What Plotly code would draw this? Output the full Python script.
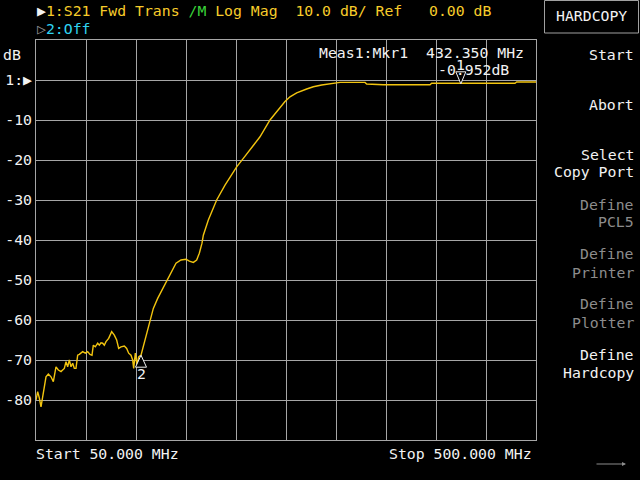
import plotly.graph_objects as go

# ---------------- data ----------------
freq_mhz = [50.0, 51.5, 53.0, 54.5, 56.0, 57.5, 59.0, 61.1, 63.5, 65.6, 66.5, 68.0, 70.1, 72.5,
            75.5, 77.0, 78.5, 80.0, 81.5, 83.0, 84.5, 86.0, 87.5, 89.0, 92.0, 94.4, 96.5, 98.6,
            100.4, 101.6, 103.4, 105.5, 107.0, 108.5, 110.0, 111.5, 113.0, 115.4, 118.1, 120.5,
            122.6, 124.4, 126.5, 129.5, 131.6, 133.4, 135.5, 137.0, 137.9, 139.4, 140.9, 142.4,
            144.5, 147.5, 150.5, 153.5, 155.6, 159.5, 164.0, 168.5, 171.5, 176.0, 180.5, 185.0,
            188.0, 191.6, 194.6, 197.0, 199.4, 200.6, 205.1, 212.6, 220.1, 230.6, 236.6, 242.6,
            251.6, 260.6, 268.1, 274.1, 278.6, 284.6, 293.6, 299.6, 307.1, 314.6, 323.6, 346.1,
            347.6, 362.6, 404.6, 406.1, 419.6, 421.1, 432.35, 463.1, 464.6, 481.1, 482.6, 500.0]
s21_db = [-80.0, -77.9, -79.5, -81.7, -79.2, -76.7, -74.2, -73.5, -74.2, -75.4, -73.8, -71.7, -72.5, -72.9,
          -72.1, -70.4, -71.7, -70.0, -71.7, -70.8, -72.1, -72.1, -68.8, -68.6, -67.9, -68.3, -67.9, -68.6,
          -68.8, -66.3, -66.7, -65.8, -66.3, -65.7, -65.8, -66.3, -65.4, -64.6, -62.9, -63.8,
          -65.0, -67.1, -66.7, -66.5, -67.1, -68.3, -68.8, -70.0, -72.1, -68.3, -71.3, -69.2,
          -68.8, -65.8, -62.5, -59.2, -57.1, -54.6, -52.1, -49.6, -47.9, -45.8, -45.0, -44.8,
          -45.3, -45.6, -45.0, -43.3, -40.8, -38.8, -35.0, -30.0, -26.3, -21.7, -19.6, -17.5,
          -14.2, -10.0, -7.5, -5.4, -4.2, -3.2, -2.25, -1.7, -1.25, -1.0, -0.6, -0.6,
          -1.0, -1.2, -1.2, -0.8, -0.8, -0.95, -0.952, -0.95, -0.8, -0.8, -0.5, -0.5]

marker_names = ["1", "2"]
marker_freq = [432.35, 144.5]
marker_db = [-0.952, -68.8]

x_grid = [50, 95, 140, 185, 230, 275, 320, 365, 410, 455, 500]
y_grid = [10, 0, -10, -20, -30, -40, -50, -60, -70, -80, -90]
y_labels = ["", "1:\u25B6", "-10", "-20", "-30", "-40", "-50", "-60", "-70", "-80", ""]

softkeys = [("Start", 54, "#f2f2f2"), ("Abort", 104, "#f2f2f2"),
            ("Select", 154, "#f2f2f2"), ("Copy Port", 172, "#f2f2f2"),
            ("Define", 204, "#8c8c8c"), ("PCL5", 222, "#8c8c8c"),
            ("Define", 254, "#8c8c8c"), ("Printer", 272, "#8c8c8c"),
            ("Define", 304, "#8c8c8c"), ("Plotter", 322, "#8c8c8c"),
            ("Define", 354, "#f2f2f2"), ("Hardcopy", 372, "#f2f2f2")]

# ---------------- style ----------------
FONT = "DejaVu Sans Mono"
FS = 14.8
GRID = "#a6a6a6"
TRACE = "#f2c40f"
YEL = "#f7cc2a"
WHITE = "#f2f2f2"
L, R, T, B = 36, 536, 40, 440


def nb(s):
    return s.replace(" ", "\u00a0")


def px(x):
    return (x - L) / (R - L)


def py(y):
    return (B - y) / (B - T)


def ann(text, x, y, color, xanchor="left", size=FS):
    return dict(text=text, x=px(x), y=py(y), xref="paper", yref="paper",
                xanchor=xanchor, yanchor="middle", showarrow=False,
                font=dict(family=FONT, size=size, color=color))


fig = go.Figure()
fig.add_trace(go.Scatter(x=freq_mhz, y=s21_db, mode="lines",
                         line=dict(color=TRACE, width=1.4), hoverinfo="skip"))

annotations = []
header = (f"<span style='color:{WHITE}'>\u25B6</span>" + nb("1:S21 Fwd Trans ")
          + "<span style='color:#3ad33a'>/M</span>" + nb(" Log Mag  10.0 dB/ Ref   0.00 dB"))
annotations.append(ann(header, 35, 11, YEL))
annotations.append(ann("<span style='color:#8c8c8c'>\u25B7</span>2:Off", 35, 29, "#2fd3f0"))
annotations.append(ann("dB", 1, 55, WHITE))
annotations.append(ann("Meas1:Mkr1", 317, 52, WHITE))
annotations.append(ann(nb("432.350 MHz"), 526, 52, WHITE, xanchor="right"))
annotations.append(ann("-0.952dB", 436, 70, WHITE))
annotations.append(ann(nb("Start 50.000 MHz"), 34, 454, WHITE))
annotations.append(ann(nb("Stop 500.000 MHz"), 534, 454, WHITE, xanchor="right"))
annotations.append(ann("HARDCOPY", 591, 16, WHITE, xanchor="center"))
for text, y, col in softkeys:
    annotations.append(ann(nb(text), 636, y, col, xanchor="right"))

# marker labels
for name, f, v, dy in zip(marker_names, marker_freq, marker_db, [19, -18]):
    annotations.append(dict(text=name, x=f, y=v, xref="x", yref="y", showarrow=False,
                            yshift=dy, xanchor="center", yanchor="middle",
                            font=dict(family=FONT, size=FS, color=WHITE)))

# bottom-right arrow
annotations.append(dict(text="", x=px(626), y=py(464), xref="paper", yref="paper",
                        ax=-31, ay=0, showarrow=True, arrowhead=2, arrowsize=0.8,
                        arrowwidth=1, arrowcolor="#8c8c8c"))

shapes = []
# marker triangles (pixel sized, anchored on marker data)
tri_paths = ["M -5 12 L 5 12 L 0 0 Z", "M -5.5 -12 L 5.5 -12 L 0 0 Z"]
for f, v, p in zip(marker_freq, marker_db, tri_paths):
    shapes.append(dict(type="path", xref="x", yref="y", xsizemode="pixel", ysizemode="pixel",
                       xanchor=f, yanchor=v, path=p, line=dict(color=WHITE, width=1),
                       fillcolor="black", layer="above"))
# HARDCOPY box
shapes.append(dict(type="rect", xref="paper", yref="paper", x0=px(544.5), x1=px(638.5),
                   y0=py(33), y1=py(0.5), line=dict(color="#a0a0a0", width=1)))

fig.update_layout(
    width=640, height=480,
    margin=dict(l=L, r=640 - R, t=T, b=480 - B, pad=0, autoexpand=False),
    paper_bgcolor="black", plot_bgcolor="black",
    showlegend=False,
    annotations=annotations, shapes=shapes,
    xaxis=dict(range=[50, 500], tickvals=x_grid, showticklabels=False, ticks="",
               showgrid=True, gridcolor=GRID, gridwidth=1, zeroline=False, automargin=False,
               showline=True, linecolor=GRID, linewidth=1, mirror=True, fixedrange=True),
    yaxis=dict(range=[-90, 10], tickvals=y_grid, ticktext=y_labels, ticks="",
               tickfont=dict(family=FONT, size=FS, color=WHITE), ticklabelstandoff=0,
               showgrid=True, gridcolor=GRID, gridwidth=1, zeroline=False, automargin=False,
               showline=True, linecolor=GRID, linewidth=1, mirror=True, fixedrange=True),
)

fig.write_html("out.html")
